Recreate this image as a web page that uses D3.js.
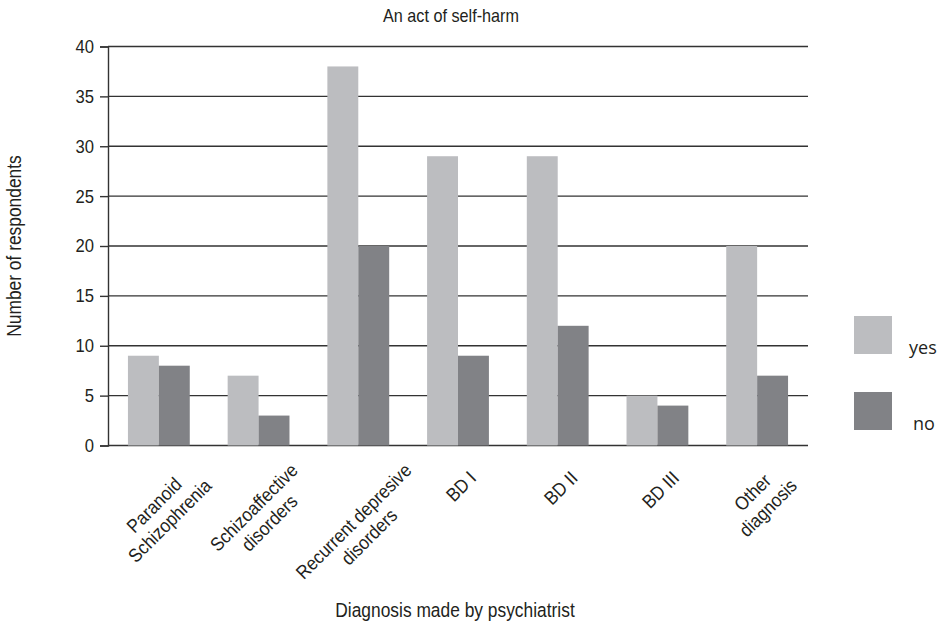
<!DOCTYPE html>
<html>
<head>
<meta charset="utf-8">
<script src="https://cdn.jsdelivr.net/npm/d3@7"></script>
<style>
    body { margin: 0; background: #fff; }
    text { font-family: "Liberation Sans", Arial, sans-serif; fill: #231f20; }
    .legend text { font-family: "Open Sans", sans-serif; }
</style>
</head>
<body>
<div id="chart"></div>
<script>
const categories = [
    ["Paranoid", "Schizophrenia"],
    ["Schizoaffective", "disorders"],
    ["Recurrent depresive", "disorders"],
    ["BD I"],
    ["BD II"],
    ["BD III"],
    ["Other", "diagnosis"]
];
const seriesNames = ["yes", "no"];
const yesValues = [9, 7, 38, 29, 29, 5, 20];
const noValues = [8, 3, 20, 9, 12, 4, 7];
const yTicks = [0, 5, 10, 15, 20, 25, 30, 35, 40];
const colors = ["#bcbdc0", "#818286"];

const width = 943, height = 625;
const margin = { top: 46.5, left: 108, right: 135, bottom: 179.5 };
const squeeze = 0.9; // the reference uses a condensed face

const svg = d3.select("#chart")
    .append("svg")
    .attr("width", width)
    .attr("height", height);

const keys = categories.map(c => c.join(" "));

const x0 = d3.scaleBand()
    .domain(keys)
    .range([margin.left, width - margin.right])
    .paddingInner(0.38)
    .paddingOuter(0.2);

const x1 = d3.scaleBand()
    .domain(seriesNames)
    .range([0, x0.bandwidth()]);

const y = d3.scaleLinear()
    .domain([0, 40])
    .range([height - margin.bottom, margin.top]);

// grid lines
svg.append("g")
    .selectAll("line")
    .data(yTicks)
    .join("line")
    .attr("x1", margin.left)
    .attr("x2", width - margin.right)
    .attr("y1", d => y(d))
    .attr("y2", d => y(d))
    .attr("stroke", "#333")
    .attr("stroke-width", 1.4);

// bars
const groups = svg.append("g")
    .selectAll("g")
    .data(keys.map((k, i) => ({ key: k, values: [yesValues[i], noValues[i]] })))
    .join("g")
    .attr("transform", d => `translate(${x0(d.key)},0)`);

groups.selectAll("rect")
    .data(d => d.values.map((v, j) => ({ name: seriesNames[j], value: v, idx: j })))
    .join("rect")
    .attr("x", d => x1(d.name))
    .attr("width", x1.bandwidth())
    .attr("y", d => y(d.value))
    .attr("height", d => y(0) - y(d.value))
    .attr("fill", d => colors[d.idx]);

// y axis
const yAxis = svg.append("g")
    .attr("transform", `translate(${margin.left},0)`)
    .call(d3.axisLeft(y).tickValues(yTicks).tickSize(8).tickPadding(6));
yAxis.select(".domain").attr("stroke", "#333").attr("stroke-width", 1.4);
yAxis.selectAll(".tick line").attr("stroke", "#333").attr("stroke-width", 1.4);
yAxis.selectAll(".tick text")
    .style("font-family", "'Liberation Sans', Arial, sans-serif")
    .style("font-size", "18.5px")
    .attr("fill", "#231f20")
    .attr("x", -14 / squeeze)
    .attr("transform", `scale(${squeeze},1)`);

// category labels, rotated
const lineH = 22;
const labels = svg.append("g")
    .selectAll("text")
    .data(categories)
    .join("text")
    .style("font-size", "19px")
    .attr("text-anchor", "middle");

labels.selectAll("tspan")
    .data(d => d.map((t, i) => ({ t, i, n: d.length })))
    .join("tspan")
    .attr("x", 0)
    .attr("y", d => (d.i - (d.n - 1) / 2) * lineH)
    .attr("dy", "0.35em")
    .text(d => d.t);

labels.attr("transform", function (d, i) {
    let len = 0;
    d3.select(this).selectAll("tspan").each(function () {
        len = Math.max(len, this.getComputedTextLength() * squeeze);
    });
    const cx = x0(keys[i]) + x0.bandwidth() / 2 + 3;
    const cy = y(0) + 29 + len * 0.354;
    return `translate(${cx},${cy}) rotate(-45) scale(${squeeze},1)`;
});

// titles
function squeezedText(x, yPos, size, str, rotate) {
    return svg.append("text")
        .attr("transform", `translate(${x},${yPos})${rotate ? " rotate(-90)" : ""} scale(${squeeze},1)`)
        .attr("text-anchor", "middle")
        .style("font-size", size)
        .text(str);
}

squeezedText(451, 22, "18px", "An act of self-harm");
squeezedText(455, 617, "19.3px", "Diagnosis made by psychiatrist");
squeezedText(21, (y(0) + y(40)) / 2, "19.3px", "Number of respondents", true);

// legend
const legend = svg.append("g").attr("class", "legend");
const legendY = d3.scalePoint().domain(seriesNames).range([316, 392]);

legend.selectAll("rect")
    .data(seriesNames)
    .join("rect")
    .attr("x", 854)
    .attr("y", d => legendY(d))
    .attr("width", 38)
    .attr("height", 38)
    .attr("fill", (d, i) => colors[i]);

legend.selectAll("text")
    .data(seriesNames)
    .join("text")
    .attr("x", (d, i) => i === 0 ? 909 : 913)
    .attr("y", d => legendY(d) + 38)
    .style("font-size", "18px")
    .text(d => d);
</script>
</body>
</html>
